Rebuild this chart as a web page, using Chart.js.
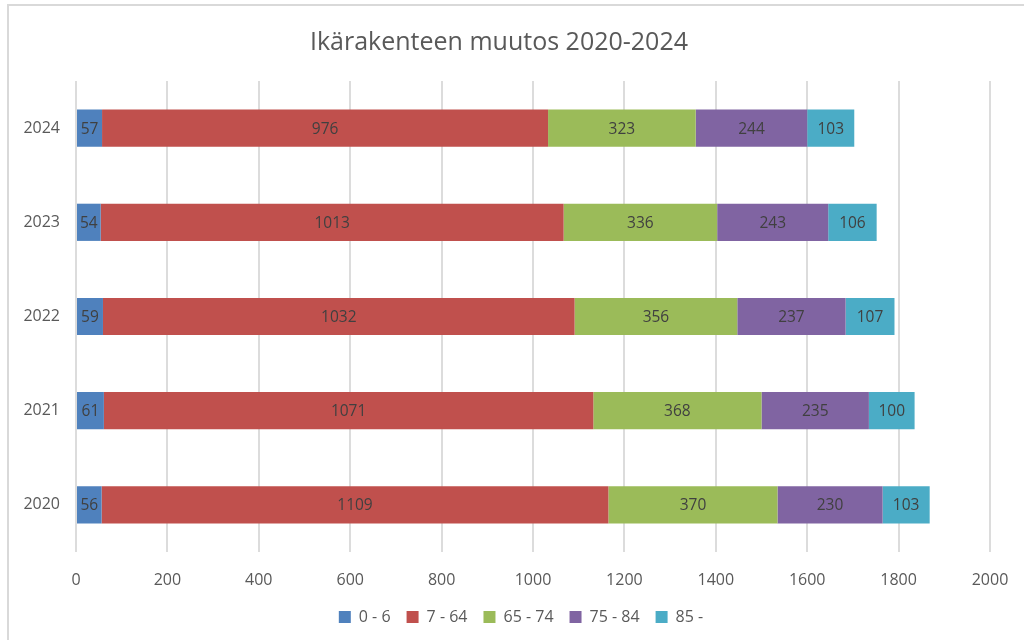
<!DOCTYPE html>
<html>
<head>
<meta charset="utf-8">
<script src="https://cdn.jsdelivr.net/npm/chart.js@4/dist/chart.umd.min.js"></script>
<style>
  html, body { margin: 0; padding: 0; background: #fff; }
  #wrap { position: relative; width: 1024px; height: 640px; overflow: hidden; }
  #frame { position: absolute; left: 7px; top: 4px; width: 1100px; height: 700px;
           border-left: 2px solid #d9d9d9; border-top: 2px solid #d9d9d9; }
  canvas { position: absolute; left: 0; top: 0; }
</style>
</head>
<body>
<div id="wrap">
  <div id="frame"></div>
  <canvas id="c" width="1024" height="640"></canvas>
</div>
<script>
const years = ['2024', '2023', '2022', '2021', '2020'];
const group0_6   = [57, 54, 59, 61, 56];
const group7_64  = [976, 1013, 1032, 1071, 1109];
const group65_74 = [323, 336, 356, 368, 370];
const group75_84 = [244, 243, 237, 235, 230];
const group85    = [103, 106, 107, 100, 103];
const seriesNames = ['0 - 6', '7 - 64', '65 - 74', '75 - 84', '85 -'];
const xTicks = [0, 200, 400, 600, 800, 1000, 1200, 1400, 1600, 1800, 2000];

const colors = ['#4F81BD', '#C0504D', '#9BBB59', '#8064A2', '#4BACC6'];
const FONT = 'Open Sans, Noto Sans, sans-serif';

const labelPlugin = {
  id: 'barLabels',
  afterDatasetsDraw(chart) {
    const ctx = chart.ctx;
    ctx.save();
    ctx.font = '15.5px ' + FONT;
    ctx.fillStyle = '#404040';
    ctx.textAlign = 'center';
    ctx.textBaseline = 'middle';
    chart.data.datasets.forEach((ds, i) => {
      const meta = chart.getDatasetMeta(i);
      meta.data.forEach((bar, j) => {
        const cx = (bar.x + bar.base) / 2;
        ctx.fillText(String(ds.data[j]), cx, bar.y + 1);
      });
    });
    ctx.restore();
  }
};

const legendShift = {
  id: 'legendShift',
  afterLayout(chart) {
    if (chart.legend) {
      chart.legend.left += 22;
      chart.legend.right += 22;
    }
  }
};

const allSeries = [group0_6, group7_64, group65_74, group75_84, group85];

new Chart(document.getElementById('c'), {
  type: 'bar',
  data: {
    labels: years,
    datasets: allSeries.map((d, i) => ({
      label: seriesNames[i],
      data: d,
      backgroundColor: colors[i],
      borderWidth: 0,
      categoryPercentage: 1,
      barPercentage: 0.395
    }))
  },
  options: {
    indexAxis: 'y',
    responsive: false,
    animation: false,
    devicePixelRatio: 1,
    layout: { padding: { left: 8, right: 34, top: 0, bottom: 5 } },
    scales: {
      x: {
        stacked: true,
        min: 0, max: 2000,
        afterBuildTicks(scale) { scale.ticks = xTicks.map(v => ({ value: v })); },
        grid: { color: '#dcdcdc', lineWidth: 2, drawTicks: false },
        border: { display: false },
        ticks: { color: '#595959', font: { family: FONT, size: 16 }, padding: 19,
                 callback: (v) => String(v) },
        afterFit(scale) { scale.height = 41; scale.paddingLeft = 0; scale.paddingRight = 0; }
      },
      y: {
        stacked: true,
        grid: { display: false, drawTicks: false },
        border: { display: false },
        ticks: { color: '#595959', font: { family: FONT, size: 16 }, padding: 16 },
        afterFit(scale) { scale.width = 68; }
      }
    },
    plugins: {
      title: {
        display: true,
        text: 'Ikärakenteen muutos 2020-2024',
        color: '#595959',
        font: { family: FONT, size: 25, weight: 'normal' },
        padding: { top: 28, bottom: 23 }
      },
      legend: {
        position: 'bottom',
        labels: {
          color: '#595959',
          font: { family: FONT, size: 16 },
          boxWidth: 12, boxHeight: 12,
          padding: 16
        }
      },
      tooltip: { enabled: false }
    }
  },
  plugins: [labelPlugin, legendShift]
});
</script>
</body>
</html>
